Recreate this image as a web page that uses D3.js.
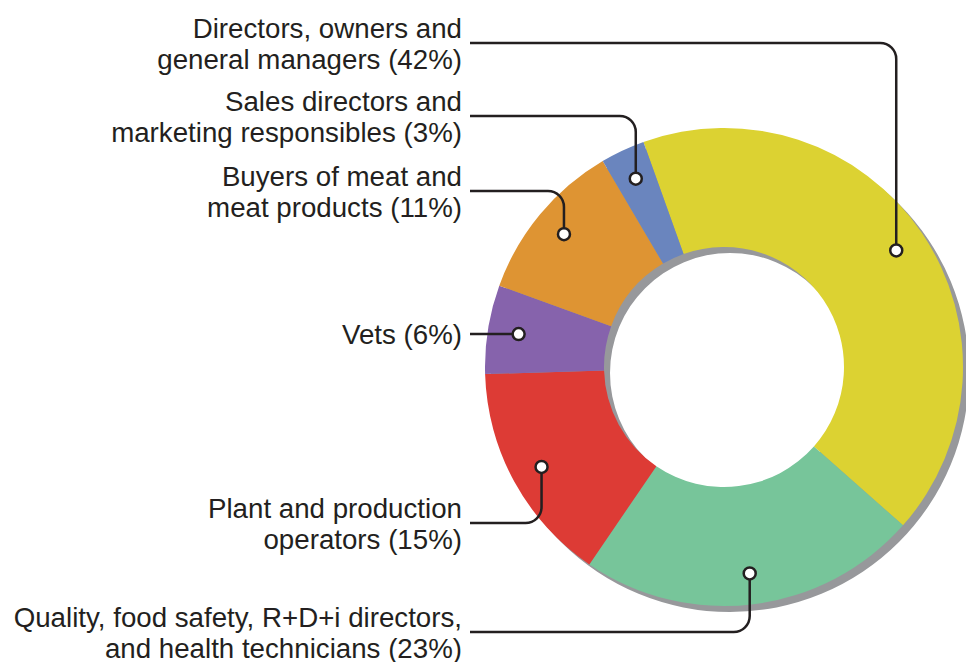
<!DOCTYPE html>
<html>
<head>
<meta charset="utf-8">
<script src="https://cdn.jsdelivr.net/npm/d3@7"></script>
<style>
  body { margin: 0; background: #fff; }
  svg { display: block; }
  .label { font-family: "Liberation Sans", Arial, sans-serif; font-size: 27.7px; fill: #231f20; }
</style>
</head>
<body>
<div id="chart"></div>
<script>
// data
const categories = [
  "Directors, owners and general managers",
  "Quality, food safety, R+D+i directors, and health technicians",
  "Plant and production operators",
  "Vets",
  "Buyers of meat and meat products",
  "Sales directors and marketing responsibles"
];
const labelLines = [
  ["Directors, owners and", "general managers (42%)"],
  ["Quality, food safety, R+D+i directors,", "and health technicians (23%)"],
  ["Plant and production", "operators (15%)"],
  ["Vets (6%)"],
  ["Buyers of meat and", "meat products (11%)"],
  ["Sales directors and", "marketing responsibles (3%)"]
];
const shares = [42, 23, 15, 6, 11, 3];
const colors = ["#dcd232", "#77c59a", "#dd3b35", "#8663ac", "#de9433", "#6a85be"];

// layout
const width = 966, height = 662;
const cx = 724, cy = 367;
const outerR = 239, innerR = 120, dotR = 208;
const shadowDx = 6, shadowDy = 6;
const startAngle = -19.7 * Math.PI / 180;
const textRight = 462, lineStart = 470, cornerR = 16;
// y of the leader line for each label (same order as categories)
const leaderY = [43, 632, 523, 337, 191, 116];

const svg = d3.select('#chart').append('svg')
    .attr('width', width)
    .attr('height', height);

const pie = d3.pie()
    .sort(null)
    .value(d => d)
    .startAngle(startAngle)
    .endAngle(startAngle + 2 * Math.PI);

const arcs = pie(shares);

const arc = d3.arc()
    .innerRadius(innerR)
    .outerRadius(outerR);

// grey shadow ring
svg.append('path')
    .attr('transform', `translate(${cx + shadowDx},${cy + shadowDy})`)
    .attr('fill', '#97989b')
    .attr('d', d3.arc().innerRadius(innerR).outerRadius(outerR)
        .startAngle(0).endAngle(2 * Math.PI)());

const ring = svg.append('g')
    .attr('transform', `translate(${cx},${cy})`);

ring.selectAll('path.slice')
    .data(arcs)
    .join('path')
    .attr('class', 'slice')
    .attr('fill', (d, i) => colors[i])
    .attr('d', arc);

// labels and leader lines
const dotArc = d3.arc().innerRadius(dotR).outerRadius(dotR);

arcs.forEach((d, i) => {
    const [px, py] = dotArc.centroid(d);
    const dx = cx + px, dy = cy + py;
    const ly = leaderY[i];
    let path;
    if (Math.abs(dy - ly) < 8) {
        path = `M${lineStart},${dy}H${dx}`;
    } else if (dy > ly) {
        path = `M${lineStart},${ly}H${dx - cornerR}A${cornerR},${cornerR} 0 0 1 ${dx},${ly + cornerR}V${dy}`;
    } else {
        path = `M${lineStart},${ly}H${dx - cornerR}A${cornerR},${cornerR} 0 0 0 ${dx},${ly - cornerR}V${dy}`;
    }
    svg.append('path')
        .attr('d', path)
        .attr('fill', 'none')
        .attr('stroke', '#231f20')
        .attr('stroke-width', 2.5);

    svg.append('circle')
        .attr('cx', dx)
        .attr('cy', dy)
        .attr('r', 6)
        .attr('fill', '#fff')
        .attr('stroke', '#231f20')
        .attr('stroke-width', 2.5);

    const lines = labelLines[i];
    const base = lines.length === 1 ? dy + 10 : ly - 5;
    const t = svg.append('text')
        .attr('class', 'label')
        .attr('text-anchor', 'end');
    lines.forEach((s, j) => {
        t.append('tspan')
            .attr('x', textRight)
            .attr('y', base + j * 30.5)
            .text(s);
    });
});
</script>
</body>
</html>
